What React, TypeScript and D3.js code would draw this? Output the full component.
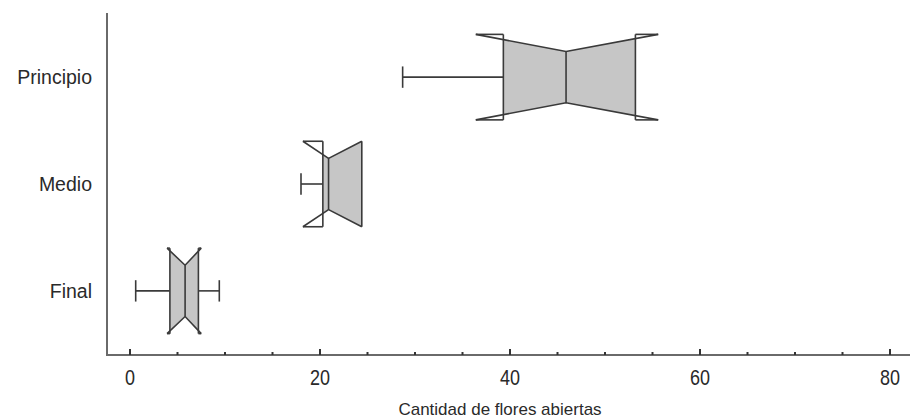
import React from "react";
import * as d3 from "d3";

const categories = ["Principio", "Medio", "Final"];
const whiskerLow = [28.7, 18.0, 0.6];
const q1Values = [39.3, 20.3, 4.2];
const medianValues = [45.9, 20.9, 5.8];
const q3Values = [53.2, 24.4, 7.2];
const whiskerHigh = [53.2, 24.4, 9.4];
const notchLow = [36.4, 18.2, 3.9];
const notchHigh = [55.6, 24.4, 7.5];
const majorTicks = [0, 20, 40, 60, 80];
const minorTicks = d3.range(0, 85, 5);
const xTitle = "Cantidad de flores abiertas";

const W = 910;
const H = 419;
const axisX = 107;
const axisY = 355;
const topY = 13;

export default function App() {
  const x = d3.scaleLinear().domain([0, 80]).range([130, 890]);
  const y = d3.scalePoint<string>().domain(categories).range([topY, axisY]).padding(0.6);
  const step = y.step();
  const boxH = step * 0.8;
  const waist = boxH * 0.2;
  const capH = step * 0.2;
  const stroke = "#3a3a3a";
  const font = "'Liberation Sans', Arial, sans-serif";
  const sw = 1.6;

  const notchY = (v: number, nl: number, nh: number, m: number, top: number) => {
    if (v <= m) {
      if (v <= nl) return top;
      return top + (waist * (v - nl)) / (m - nl);
    }
    if (v >= nh) return top;
    return top + (waist * (nh - v)) / (nh - m);
  };

  return (
    <svg width={W} height={H} style={{ position: "absolute", left: 0, top: 0, background: "#fff" }}>
      {categories.map((c, i) => {
        const cy = y(c)!;
        const top = cy - boxH / 2;
        const bot = cy + boxH / 2;
        const q1 = q1Values[i], q3 = q3Values[i], m = medianValues[i];
        const nl = notchLow[i], nh = notchHigh[i];
        const yq1t = notchY(q1, nl, nh, m, top);
        const yq3t = notchY(q3, nl, nh, m, top);
        const yq1b = bot - (yq1t - top);
        const yq3b = bot - (yq3t - top);
        const fillPts: [number, number][] = [
          [x(q1), yq1t],
          ...(nl > q1 ? [[x(nl), top] as [number, number]] : []),
          [x(m), top + waist],
          ...(nh < q3 ? [[x(nh), top] as [number, number]] : []),
          [x(q3), yq3t],
          [x(q3), yq3b],
          ...(nh < q3 ? [[x(nh), bot] as [number, number]] : []),
          [x(m), bot - waist],
          ...(nl > q1 ? [[x(nl), bot] as [number, number]] : []),
          [x(q1), yq1b],
        ];
        const line = d3.line();
        const notchTop: [number, number][] = [
          [x(nl), top],
          [x(m), top + waist],
          [x(nh), top],
        ];
        const notchBot: [number, number][] = notchTop.map(([px, py]) => [px, bot - (py - top)]);
        const flaps: [number, number][] = [
          [Math.min(nl, q1), Math.max(nl, q1)],
          [Math.min(nh, q3), Math.max(nh, q3)],
        ];
        return (
          <g key={c}>
            {whiskerLow[i] < q1 && (
              <g stroke={stroke} strokeWidth={sw}>
                <line x1={x(whiskerLow[i])} x2={x(q1)} y1={cy} y2={cy} />
                <line x1={x(whiskerLow[i])} x2={x(whiskerLow[i])} y1={cy - capH / 2} y2={cy + capH / 2} />
              </g>
            )}
            {whiskerHigh[i] > q3 && (
              <g stroke={stroke} strokeWidth={sw}>
                <line x1={x(q3)} x2={x(whiskerHigh[i])} y1={cy} y2={cy} />
                <line x1={x(whiskerHigh[i])} x2={x(whiskerHigh[i])} y1={cy - capH / 2} y2={cy + capH / 2} />
              </g>
            )}
            <path d={line(fillPts)! + "Z"} fill="#c6c6c6" stroke="none" />
            <path d={line(notchTop)!} fill="none" stroke={stroke} strokeWidth={sw} />
            <path d={line(notchBot)!} fill="none" stroke={stroke} strokeWidth={sw} />
            {flaps.map(([a, b], k) =>
              b > a ? (
                <g key={k} stroke={stroke} strokeWidth={sw}>
                  <line x1={x(a)} x2={x(b)} y1={top} y2={top} />
                  <line x1={x(a)} x2={x(b)} y1={bot} y2={bot} />
                </g>
              ) : null
            )}
            <line x1={x(q1)} x2={x(q1)} y1={top} y2={bot} stroke={stroke} strokeWidth={sw} />
            <line x1={x(q3)} x2={x(q3)} y1={top} y2={bot} stroke={stroke} strokeWidth={sw} />
            <line x1={x(m)} x2={x(m)} y1={top + waist} y2={bot - waist} stroke={stroke} strokeWidth={sw} />
            <text
              x={92}
              y={cy + 7}
              textAnchor="end"
              fontFamily={font}
              fontSize={19.5}
              fill="#2a2a2a"
            >
              {c}
            </text>
          </g>
        );
      })}
      <line x1={axisX} x2={axisX} y1={topY} y2={axisY} stroke="#6a6a6a" strokeWidth={2} />
      <line x1={axisX - 1} x2={W} y1={axisY} y2={axisY} stroke="#6a6a6a" strokeWidth={2} />
      {minorTicks.map((t) => (
        <line
          key={"m" + t}
          x1={x(t)}
          x2={x(t)}
          y1={axisY}
          y2={axisY - (t % 20 === 0 ? 6 : 3)}
          stroke="#333"
          strokeWidth={2}
        />
      ))}
      {majorTicks.map((t) => (
        <text
          key={"t" + t}
          transform={`translate(${x(t)},385) scale(1,1.2)`}
          textAnchor="middle"
          fontFamily={font}
          fontSize={18}
          fill="#2a2a2a"
        >
          {t}
        </text>
      ))}
      <text x={500} y={415} textAnchor="middle" fontFamily={font} fontSize={17} fill="#2a2a2a">
        {xTitle}
      </text>
    </svg>
  );
}
